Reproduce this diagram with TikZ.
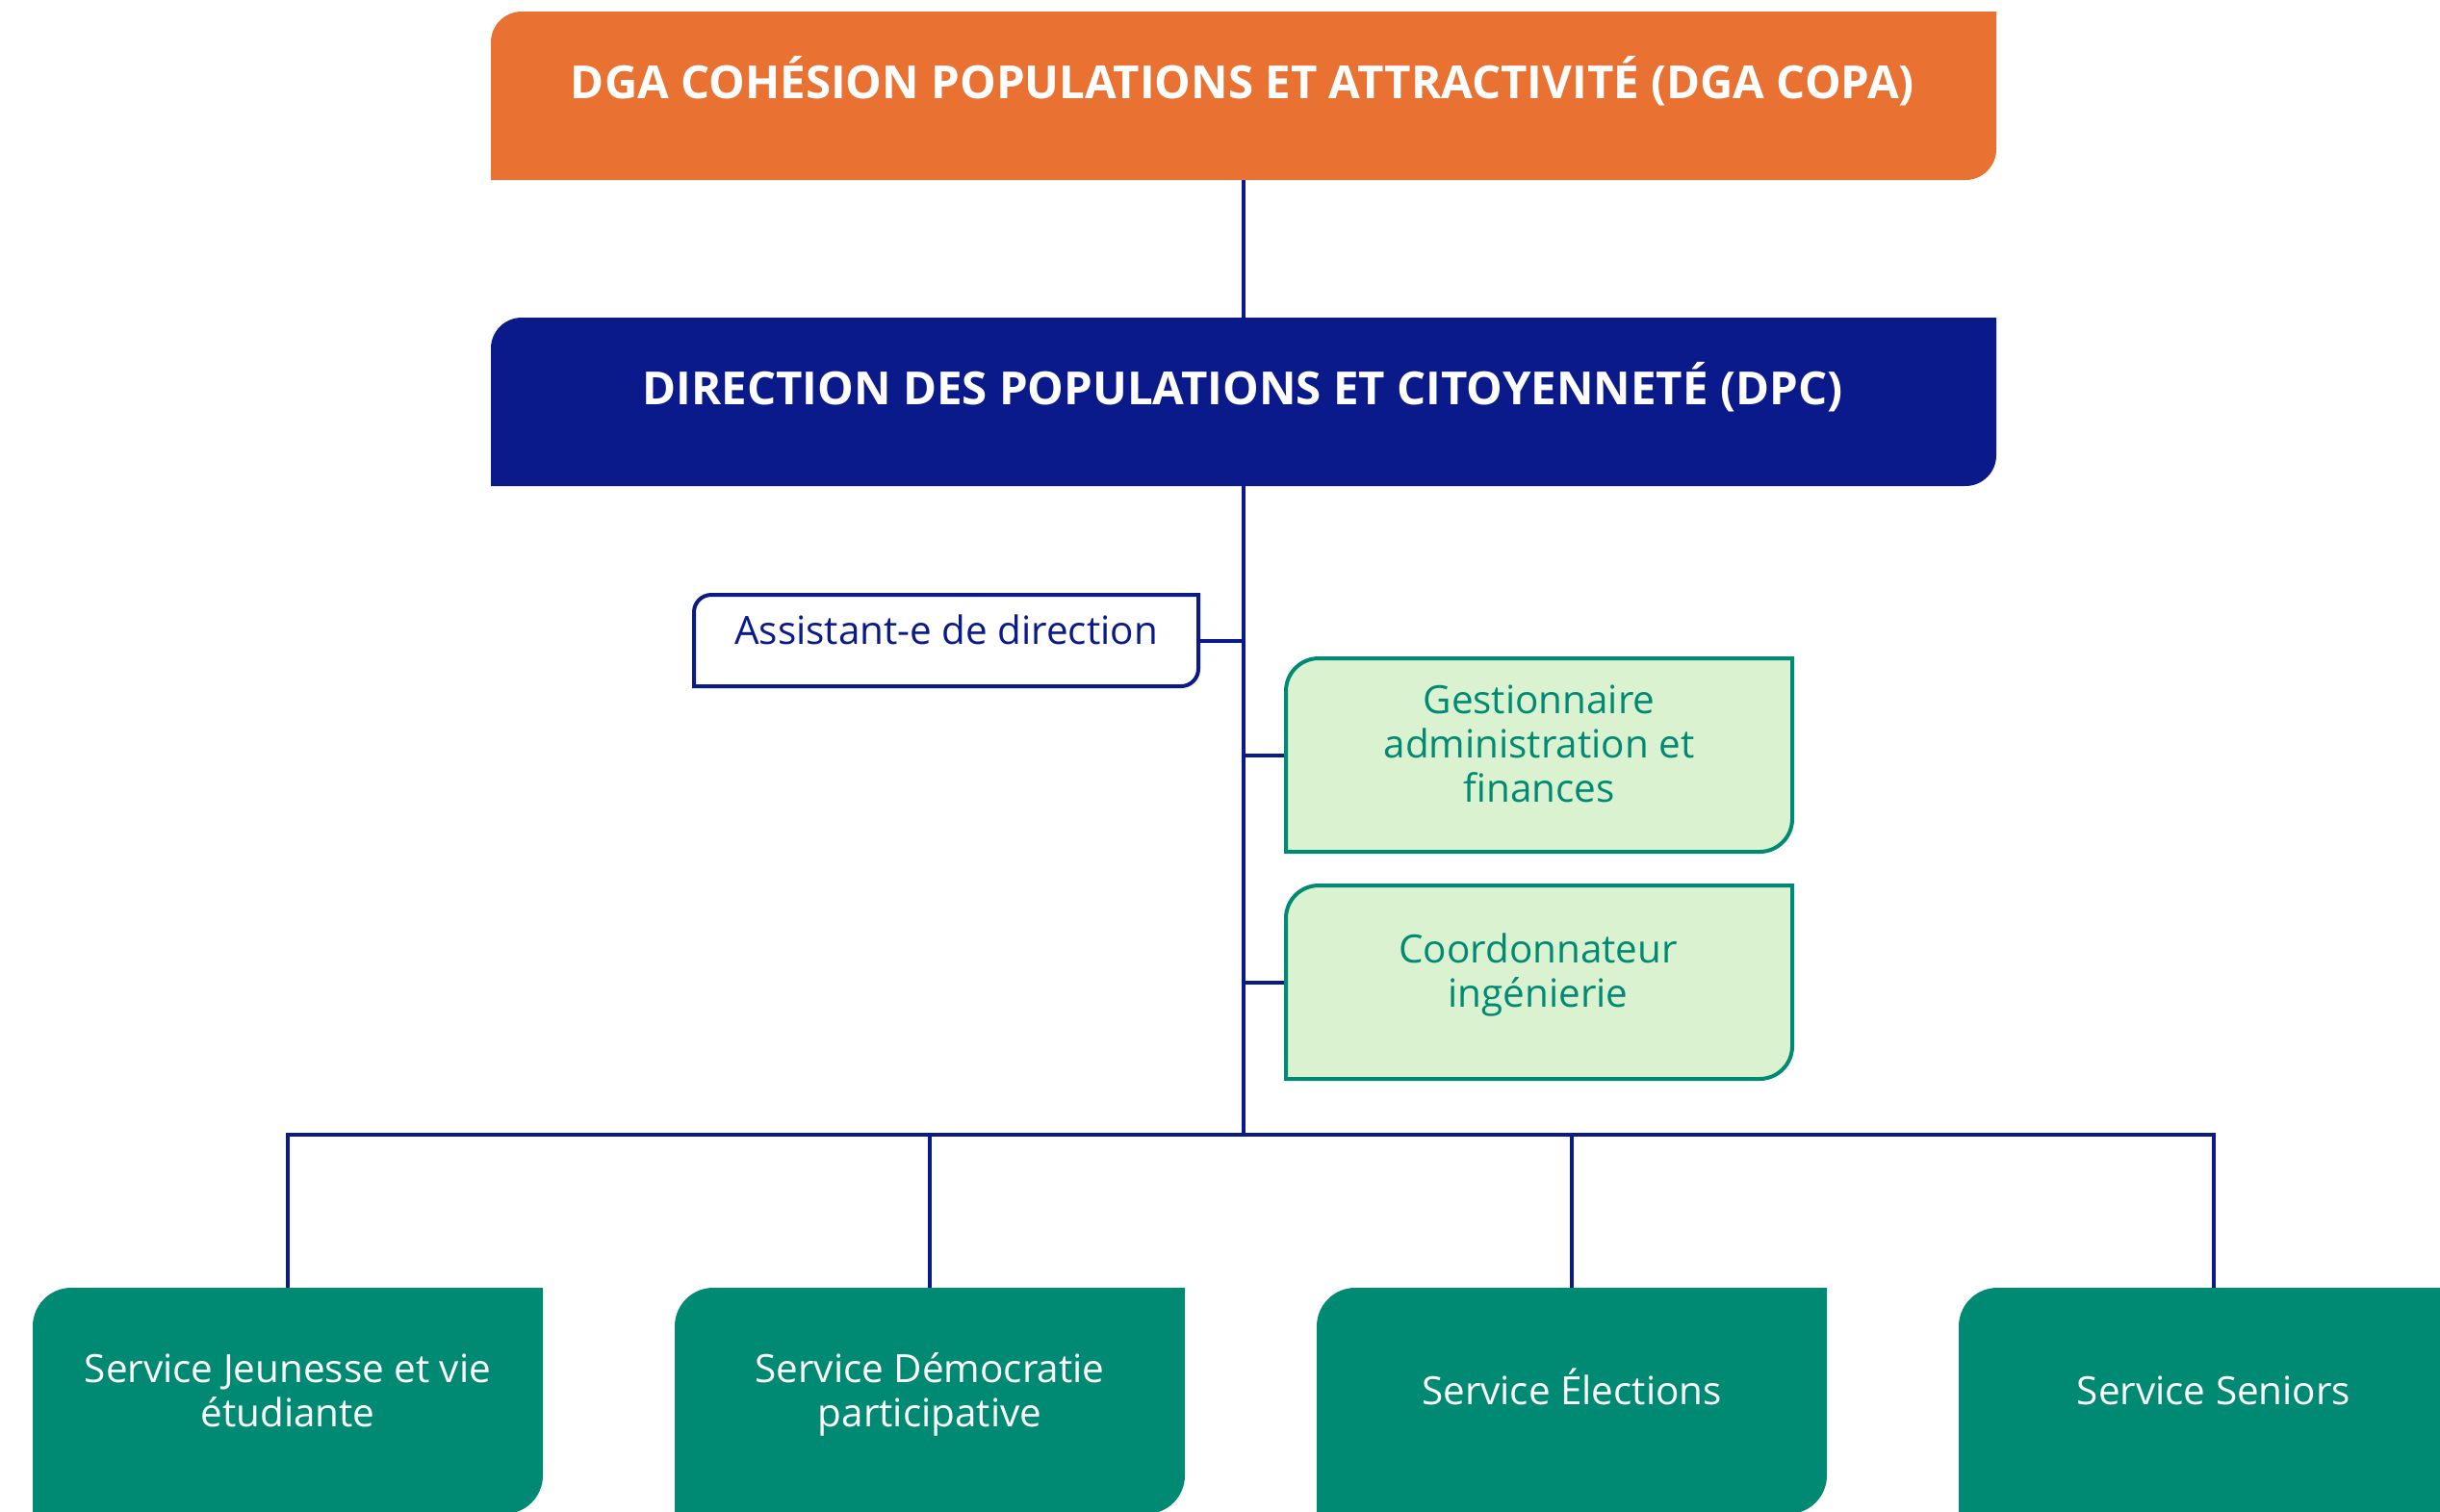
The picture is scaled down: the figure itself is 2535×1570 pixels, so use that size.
\documentclass[tikz,border=0pt]{standalone}
\usepackage{fontspec}
\setmainfont{Open Sans}
\definecolor{cOrange}{HTML}{E97132}
\definecolor{cNavy}{HTML}{0A1A8A}
\definecolor{cTeal}{HTML}{008A74}
\definecolor{cLight}{HTML}{DAF2D0}
\newcommand\titlefont{\fontsize{23.7}{28}\selectfont\bfseries}
\newcommand\bodyfont{\fontsize{20.2}{23}\selectfont}
\newcommand\tstrut{\rule[-8pt]{0pt}{31pt}}
% box with rounded top-left and bottom-right corners
\newcommand\diagbox[3]{\path[#3] (#1.south west) -- ([yshift=-#2]#1.north west)
  arc[start angle=180,end angle=90,radius=#2] -- (#1.north east)
  -- ([yshift=#2]#1.south east) arc[start angle=0,end angle=-90,radius=#2] -- cycle;}
\begin{document}
\begin{tikzpicture}[x=0.5pt,y=-0.5pt,
  frame/.style={inner sep=0pt, outer sep=0pt},
  conn/.style={draw=cNavy, line width=2pt},
  titletext/.style={text=white, font=\titlefont, align=center, inner sep=0pt},
  bodytext/.style={font=\bodyfont, align=center, inner sep=0pt},
  topbox/.style={frame, minimum width=782pt, minimum height=87.5pt},
  sidebox/.style={frame, minimum width=263pt, minimum height=100.5pt},
  servbox/.style={frame, minimum width=265pt, minimum height=117.5pt}]
\useasboundingbox (0,0) rectangle (2535,1570);
\clip (0,0) rectangle (2535,1570);

% geometry nodes
\node[topbox] (dga) at (1292,99.5) {};
\node[topbox] (dpc) at (1292,417.5) {};
\node[frame, minimum width=262pt, minimum height=47.5pt] (assist) at (983,665.5) {};
\node[sidebox] (gest) at (1599,784.5) {};
\node[sidebox] (coord) at (1599,1020.5) {};
\node[servbox] (sjeu) at (299,1455.5) {};
\node[servbox] (sdem) at (966,1455.5) {};
\node[servbox] (selec) at (1633,1455.5) {};
\node[servbox] (ssen) at (2300,1455.5) {};
\coordinate (hub) at (1292,1179);

% connectors
\draw[conn] (dga.south -| hub) -- (dpc.north -| hub);
\draw[conn] (dpc.south -| hub) -- (hub);
\draw[conn] (assist.east) -- (assist.east -| hub);
\draw[conn] (gest.west -| hub) -- (gest.west);
\draw[conn] (coord.west -| hub) -- (coord.west);
\draw[conn] (sjeu.north) -- (sjeu.north |- hub) -- (ssen.north |- hub) -- (ssen.north);
\draw[conn] (sdem.north) -- (sdem.north |- hub);
\draw[conn] (selec.north) -- (selec.north |- hub);

% shapes
\diagbox{dga}{16pt}{fill=cOrange}
\diagbox{dpc}{16pt}{fill=cNavy}
\diagbox{assist}{9pt}{fill=white, draw=cNavy, line width=2pt}
\diagbox{gest}{17pt}{fill=cLight, draw=cTeal, line width=2pt}
\diagbox{coord}{17pt}{fill=cLight, draw=cTeal, line width=2pt}
\diagbox{sjeu}{20pt}{fill=cTeal}
\diagbox{sdem}{20pt}{fill=cTeal}
\diagbox{selec}{20pt}{fill=cTeal}
\diagbox{ssen}{20pt}{fill=cTeal}

% texts
\node[titletext] (dgaT) at (1291,87.5) {\tstrut DGA COHÉSION POPULATIONS ET ATTRACTIVITÉ (DGA COPA)};
\node[titletext] (dpcT) at (1291,405.5) {\tstrut DIRECTION DES POPULATIONS ET CITOYENNETÉ (DPC)};
\node[bodytext, text=cNavy] (assistT) at (983,660) {\strut Assistant-e de direction};
\node[bodytext, text=cTeal] (gestT) at (1599,778) {\strut Gestionnaire\\\strut administration et\\\strut finances};
\node[bodytext, text=cTeal] (coordT) at (1598,1014) {\strut Coordonnateur\\\strut ingénierie};
\node[bodytext, text=white] (sjeuT) at (299,1450) {\strut Service Jeunesse et vie\\\strut étudiante};
\node[bodytext, text=white] (sdemT) at (966,1450) {\strut Service Démocratie\\\strut participative};
\node[bodytext, text=white] (selecT) at (1633,1448) {\strut Service Élections};
\node[bodytext, text=white] (ssenT) at (2300,1450) {\strut Service Seniors};
\end{tikzpicture}
\end{document}
